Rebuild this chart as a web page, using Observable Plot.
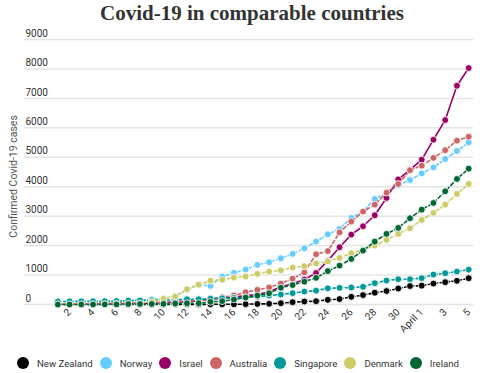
<!DOCTYPE html>
<html><head><meta charset="utf-8">
<script src="https://cdn.jsdelivr.net/npm/d3@7"></script>
<script src="https://cdn.jsdelivr.net/npm/@observablehq/plot@0.6"></script>
<style>
body{margin:0;width:500px;height:373px;overflow:hidden;background:#fff;font-family:Roboto,sans-serif;position:relative;}
#title{height:26px;line-height:26px;text-align:center;font-weight:bold;font-size:21px;font-family:"Liberation Serif",serif;color:#333;padding-left:4px;}
#chart{height:314px;}
#legend{position:absolute;left:17px;top:355px;height:16px;display:flex;align-items:center;font-size:9.6px;color:#333;white-space:nowrap;}
.item{display:flex;align-items:center;margin-right:7px;}
.sw{width:12px;height:12px;border-radius:50%;margin-right:8px;}
</style></head><body>
<div id="title">Covid-19 in comparable countries</div>
<div id="chart"></div>
<div id="legend"></div>
<script>
const dates = ["2020-03-01","2020-03-02","2020-03-03","2020-03-04","2020-03-05","2020-03-06","2020-03-07","2020-03-08","2020-03-09","2020-03-10",
"2020-03-11","2020-03-12","2020-03-13","2020-03-14","2020-03-15","2020-03-16","2020-03-17","2020-03-18","2020-03-19","2020-03-20",
"2020-03-21","2020-03-22","2020-03-23","2020-03-24","2020-03-25","2020-03-26","2020-03-27","2020-03-28","2020-03-29","2020-03-30",
"2020-03-31","2020-04-01","2020-04-02","2020-04-03","2020-04-04","2020-04-05"];

const countries = ["New Zealand","Norway","Israel","Australia","Singapore","Denmark","Ireland"];
const colors = ["#000000","#66ccff","#990066","#cc6666","#009999","#cccc66","#006633"];

const newZealand = [0,0,1,2,3,4,4,5,5,5, 5,5,5,6,8,8,12,20,24,45, 79,102,113,158,185,260,320,400,458,543, 627,640,712,758,805,894];
const norway = [15,19,25,32,56,87,108,147,176,205, 280,500,680,630,950,1075,1187,1346,1435,1571, 1718,1910,2137,2385,2567,2940,3155,3585,3780,4050, 4228,4454,4658,4942,5213,5506];
const israel = [10,10,12,15,17,21,25,39,50,58, 76,97,126,178,213,250,300,337,433,600, 705,850,1070,1490,1945,2374,2657,3031,3619,4250, 4570,4919,5597,6264,7429,8030];
const australia = [25,27,30,39,52,55,60,63,76,91, 107,128,128,200,250,305,418,498,580,710, 880,1090,1707,1815,2450,2815,3155,3392,3799,4093, 4560,4715,4980,5240,5565,5700];
const singapore = [102,106,108,110,112,117,130,138,150,150, 160,178,178,200,212,226,243,266,305,340, 385,440,470,550,565,577,600,724,814,859, 859,894,1018,1063,1119,1187];
const denmark = [3,4,4,6,10,20,23,35,90,193, 271,520,672,808,837,916,950,1040,1119,1160, 1255,1300,1395,1460,1583,1741,1866,2001,2194,2398, 2589,2873,3110,3392,3754,4093];
const ireland = [0,1,1,1,6,6,18,18,19,21, 34,43,43,90,113,170,237,305,380,570, 660,775,905,1135,1323,1549,1832,2137,2398,2602, 2929,3222,3449,3844,4263,4613];

const seriesValues = [newZealand, norway, israel, australia, singapore, denmark, ireland];
const solidSeries = ["Israel"];

const yTicks = [0,1000,2000,3000,4000,5000,6000,7000,8000,9000];
const xTickDates = ["2020-03-02","2020-03-04","2020-03-06","2020-03-08","2020-03-10","2020-03-12","2020-03-14","2020-03-16","2020-03-18","2020-03-20",
"2020-03-22","2020-03-24","2020-03-26","2020-03-28","2020-03-30","2020-04-01","2020-04-03","2020-04-05"];
const yLabel = "Confirmed Covid-19 cases";

const parse = s => new Date(s + "T00:00:00Z");
const DAY = 864e5;

const marks = [
  Plot.ruleY(yTicks, {stroke: "#e4e4e4", strokeWidth: 1.5}),
  Plot.text(yTicks, {y: d => d, text: d => String(d), frameAnchor: "left", textAnchor: "start", dx: 1, dy: -6, fontSize: 10, fill: "#333"}),
  Plot.text([yLabel], {text: d => d, y: () => 4350, frameAnchor: "left", textAnchor: "middle", rotate: -90, dx: -11, fontSize: 10.5, fill: "#555"})
];

countries.forEach((c, k) => {
  const rows = dates.map((d, i) => ({date: parse(d), value: seriesValues[k][i], country: c}));
  marks.push(Plot.line(rows, {x: "date", y: "value", stroke: colors[k], strokeWidth: 1.6,
    strokeDasharray: solidSeries.includes(c) ? null : "3.5,2.5"}));
  marks.push(Plot.dot(rows, {x: "date", y: "value", r: 3.4, fill: colors[k], stroke: "#fff", strokeWidth: 0.8}));
});

const chart = Plot.plot({
  width: 500, height: 314,
  marginTop: 13, marginBottom: 36, marginLeft: 24, marginRight: 27,
  style: {fontFamily: "Roboto, sans-serif", fontSize: "10px", color: "#333", background: "#fff"},
  x: {type: "utc", domain: [new Date(parse(dates[0]) - 2.84 * DAY), new Date(+parse(dates[dates.length - 1]) + 0.41 * DAY)],
      ticks: xTickDates.map(parse),
      tickFormat: d => (d.getUTCMonth() === 3 && d.getUTCDate() === 1) ? "April 1" : String(d.getUTCDate()),
      tickRotate: -45, tickSize: 0, tickPadding: 6, label: null},
  y: {domain: [0, 9000], axis: null},
  marks
});
document.getElementById("chart").appendChild(chart);

const legend = document.getElementById("legend");
countries.forEach((c, k) => {
  const it = document.createElement("div"); it.className = "item";
  const sw = document.createElement("div"); sw.className = "sw"; sw.style.background = colors[k];
  const tx = document.createElement("span"); tx.textContent = c;
  it.appendChild(sw); it.appendChild(tx); legend.appendChild(it);
});
</script>
</body></html>
